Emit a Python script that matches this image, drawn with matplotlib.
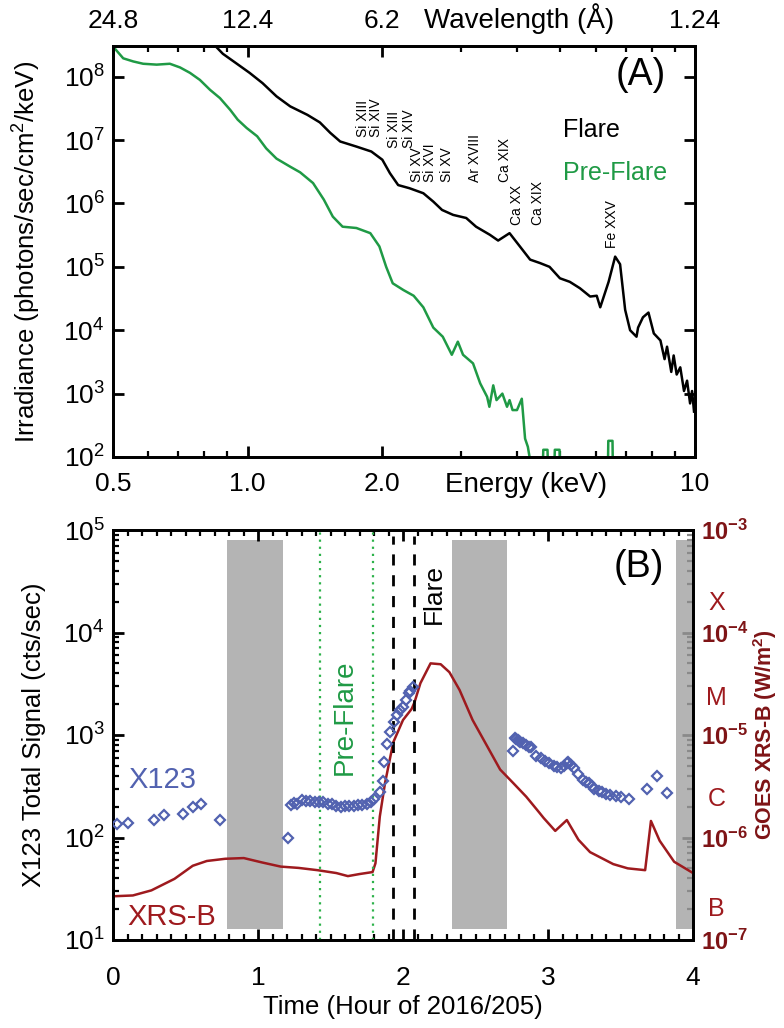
import matplotlib
matplotlib.use("Agg")
import matplotlib.pyplot as plt
import matplotlib.ticker as mticker
import matplotlib.transforms as mtransforms
from matplotlib import rcParams

rcParams['font.family'] = ['Liberation Sans', 'DejaVu Sans']
rcParams['mathtext.default'] = 'regular'
rcParams['axes.linewidth'] = 2.0
rcParams['xtick.direction'] = 'in'
rcParams['ytick.direction'] = 'in'
rcParams['xtick.major.size'] = 8
rcParams['ytick.major.size'] = 8
rcParams['xtick.minor.size'] = 4.5
rcParams['ytick.minor.size'] = 4.5
rcParams['xtick.major.width'] = 2.0
rcParams['ytick.major.width'] = 2.0
rcParams['xtick.minor.width'] = 1.6
rcParams['ytick.minor.width'] = 1.6

BLACK = "#000000"
GREEN = "#1F9A45"
GREEN_DOT = "#2DB24A"
BLUE = "#5262B0"
RED = "#9E1A1E"
DKRED = "#7E1416"
GRAY = "#B4B4B4"

# ---------------- panel A data: X123 spectra ----------------
flare_energy = [0.50, 0.60, 0.70, 0.80, 0.845, 0.88, 0.946, 1.01, 1.08, 1.16,
                1.245, 1.36, 1.45, 1.53, 1.61, 1.75, 1.89, 2.00, 2.08, 2.17,
                2.30, 2.47, 2.60, 2.72, 2.88, 3.08, 3.24, 3.48, 3.63, 3.85,
                4.06, 4.28, 4.50, 4.73, 4.99, 5.25, 5.53, 5.83, 6.03, 6.14,
                6.41, 6.63, 6.80, 6.98, 7.16, 7.40, 7.46, 7.65, 7.87, 8.09,
                8.37, 8.55, 8.66, 8.85, 8.96, 9.10, 9.27, 9.45, 9.60, 9.75,
                9.85, 9.95]
flare_irr = [1.6e9, 8.9e8, 5.6e8, 3.5e8, 3.1e8, 2.3e8, 1.6e8, 1.15e8, 7.9e7, 4.9e7,
             3.4e7, 2.5e7, 1.9e7, 1.3e7, 9.5e6, 7.9e6, 6.6e6, 4.9e6, 3.0e6, 1.95e6,
             1.74e6, 1.45e6, 1.07e6, 7.9e5, 6.6e5, 5.9e5, 4.3e5, 3.2e5, 2.6e5, 3.4e5,
             2.1e5, 1.3e5, 1.15e5, 1.0e5, 6.6e4, 5.8e4, 4.6e4, 3.4e4, 3.5e4, 2.3e4,
             5.8e4, 1.45e5, 1.1e5, 2.1e4, 1.0e4, 7.9e3, 1.1e4, 1.6e4, 1.9e4, 8.9e3,
             6.9e3, 3.5e3, 5.5e3, 2.2e3, 4.0e3, 2.0e3, 2.6e3, 1.1e3, 1.6e3, 7.0e2,
             1.1e3, 5.2e2]

pre_energy = [0.50, 0.527, 0.555, 0.584, 0.626, 0.67, 0.706, 0.743, 0.782, 0.824,
              0.867, 0.914, 0.95, 0.995, 1.05, 1.10, 1.16, 1.245, 1.31, 1.40,
              1.48, 1.55, 1.63, 1.75, 1.88, 1.97, 2.04, 2.11, 2.23, 2.35,
              2.47, 2.60, 2.73, 2.86, 2.95, 3.03, 3.19, 3.31, 3.43, 3.47,
              3.54, 3.60, 3.71, 3.80, 3.85, 3.91, 4.00, 4.10, 4.17, 4.23,
              4.29, 4.57, 4.58, 4.68, 4.69, 4.85, 4.86, 4.98, 4.99, 6.39,
              6.40, 6.54, 6.55, 10.0]
pre_irr = [3.0e8, 1.95e8, 1.74e8, 1.6e8, 1.55e8, 1.6e8, 1.4e8, 1.15e8, 8.9e7, 6.2e7,
           4.6e7, 3.0e7, 2.1e7, 1.55e7, 1.15e7, 7.4e6, 5.1e6, 3.8e6, 3.1e6, 2.1e6,
           1.15e6, 6.2e5, 4.3e5, 4.1e5, 3.4e5, 2.1e5, 1.0e5, 5.5e4, 4.3e4, 3.5e4,
           2.3e4, 1.1e4, 7.9e3, 4.1e3, 6.6e3, 4.1e3, 3.0e3, 1.45e3, 8.9e2, 6.2e2,
           1.35e3, 7.9e2, 1.0e3, 6.2e2, 7.9e2, 5.5e2, 5.5e2, 8.3e2, 1.95e2, 1.45e2,
           8.0e1, 8.0e1, 1.3e2, 1.3e2, 8.0e1, 8.0e1, 1.3e2, 1.3e2, 8.0e1, 8.0e1,
           1.8e2, 1.8e2, 8.0e1, 8.0e1]

line_names = ["Si XIII", "Si XIV", "Si XIII", "Si XIV", "Si XV", "Si XVI", "Si XV",
              "Ar XVIII", "Ca XIX", "Ca XX", "Ca XIX", "Fe XXV"]
line_energy = [1.81, 1.94, 2.12, 2.30, 2.39, 2.56, 2.79, 3.22, 3.76, 3.99, 4.46, 6.51]
line_base = [1.1e7, 1.1e7, 7.6e6, 7.6e6, 2.2e6, 2.2e6, 2.2e6, 2.2e6, 2.2e6,
             4.6e5, 4.6e5, 2.0e5]

energy_ticks = [0.5, 1.0, 2.0, 10]
energy_labels = ["0.5", "1.0", "2.0", "10"]
wave_labels = ["24.8", "12.4", "6.2", "1.24"]

# ---------------- panel B data: time series ----------------
x123_time = [0.03, 0.10, 0.28, 0.35, 0.48, 0.55, 0.61, 0.74, 1.21,
             1.23, 1.25, 1.27, 1.30, 1.33, 1.36, 1.39, 1.42, 1.45, 1.48,
             1.51, 1.54, 1.57, 1.60, 1.63, 1.66, 1.69, 1.72, 1.75, 1.78,
             1.80, 1.84, 1.86, 1.87, 1.89, 1.91, 1.94, 1.96, 1.98, 2.00,
             2.02, 2.04, 2.05, 2.07,
             2.76, 2.77, 2.78, 2.79, 2.80, 2.81, 2.83, 2.85, 2.87, 2.88,
             2.92, 2.95, 2.98, 3.01, 3.04, 3.06, 3.09, 3.11, 3.13, 3.14,
             3.16, 3.18, 3.21, 3.24, 3.26, 3.28, 3.30, 3.32, 3.35, 3.37,
             3.40, 3.43, 3.47, 3.50, 3.56, 3.68, 3.75, 3.82]
x123_counts = [135, 140, 147, 164, 168, 200, 210, 147, 100,
               206, 215, 214, 234, 228, 225, 222, 224, 220, 213,
               210, 205, 200, 202, 204, 205, 206, 209, 212, 220,
               240, 275, 355, 540, 810, 1070, 1350, 1580, 1750, 1860,
               2190, 2570, 2700, 2950,
               700, 930, 910, 890, 870, 850, 830, 800, 770, 760,
               630, 600, 560, 530, 500, 490, 480, 500, 530, 550,
               510, 480, 420, 365, 345, 340, 320, 300, 285, 275,
               265, 257, 255, 250, 235, 295, 400, 270]

goes_time = [0.0, 0.137, 0.265, 0.424, 0.55, 0.647, 0.774, 0.902, 1.03, 1.157,
             1.28, 1.41, 1.54, 1.62, 1.70, 1.79, 1.81, 1.84, 1.876, 1.933,
             2.0, 2.06, 2.08, 2.12, 2.19, 2.26, 2.32, 2.39, 2.48, 2.58,
             2.67, 2.76, 2.85, 2.94, 2.97, 3.05, 3.13, 3.21, 3.29, 3.45,
             3.55, 3.67, 3.71, 3.77, 3.87, 4.0]
goes_flux = [2.67e-7, 2.72e-7, 3.05e-7, 3.95e-7, 5.3e-7, 5.9e-7, 6.2e-7, 6.3e-7, 5.7e-7, 5.2e-7,
             5.05e-7, 4.8e-7, 4.5e-7, 4.2e-7, 4.4e-7, 4.6e-7, 5.6e-7, 1.6e-6, 3.4e-6, 8.5e-6,
             1.4e-5, 1.8e-5, 2.1e-5, 3.2e-5, 5.0e-5, 4.9e-5, 4.1e-5, 2.75e-5, 1.4e-5, 7.8e-6,
             4.6e-6, 3.4e-6, 2.5e-6, 1.75e-6, 1.55e-6, 1.16e-6, 1.48e-6, 9.5e-7, 7.2e-7, 5.5e-7,
             5.0e-7, 4.8e-7, 1.45e-6, 9.3e-7, 5.8e-7, 4.5e-7]

gap_start = [0.785, 2.335, 3.885]
gap_end = [1.17, 2.72, 4.05]
preflare_window = [1.43, 1.79]
flare_window = [1.93, 2.075]
goes_class = ["X", "M", "C", "B"]
goes_class_y = [1.95e-4, 2.3e-5, 2.4e-6, 2.0e-7]

fig = plt.figure(figsize=(7.84, 10.28), dpi=100)

# ================= panel A =================
ax = fig.add_axes([113 / 784, 1 - 457 / 1028, 582 / 784, 411 / 1028])
ax.plot(flare_energy, flare_irr, color=BLACK, lw=1.8)
ax.plot(pre_energy, pre_irr, color=GREEN, lw=1.8)
ax.set_xscale("log")
ax.set_yscale("log")
ax.set_xlim(0.5, 10)
ax.set_ylim(1e2, 3.05e8)
ax.xaxis.set_major_locator(mticker.FixedLocator(energy_ticks))
ax.xaxis.set_major_formatter(mticker.FixedFormatter(energy_labels))
ax.xaxis.set_minor_formatter(mticker.NullFormatter())
ax.yaxis.set_major_locator(mticker.LogLocator(base=10, numticks=20))
ax.yaxis.set_minor_locator(mticker.NullLocator())
ax.tick_params(axis="x", which="both", labelsize=19, pad=11)
ax.tick_params(axis="y", which="both", labelsize=19, pad=6, right=True)
ax.set_ylabel("Irradiance (photons/sec/cm$^2$/keV)", fontsize=18.5)
ax.yaxis.set_label_coords(-0.12, 0.5)
ax.annotate("Energy (keV)", xy=(4.2, 0), xycoords=("data", "axes fraction"),
            xytext=(0, -11), textcoords="offset points", ha="center", va="top",
            fontsize=20)

top = ax.twiny()
top.set_xscale("log")
top.set_xlim(0.5, 10)
top.xaxis.set_major_locator(mticker.FixedLocator(energy_ticks))
top.xaxis.set_major_formatter(mticker.FixedFormatter(wave_labels))
top.xaxis.set_minor_formatter(mticker.NullFormatter())
top.tick_params(axis="x", which="both", labelsize=19, pad=9)
top.annotate("Wavelength (\u00c5)", xy=(4.05, 1), xycoords=("data", "axes fraction"),
             xytext=(0, 9), textcoords="offset points", ha="center", va="bottom",
             fontsize=20)

for name, e, base in zip(line_names, line_energy, line_base):
    ax.text(e, base, name, rotation=90, ha="center", va="bottom", fontsize=10)

ax.text(0.95, 0.93, "(A)", transform=ax.transAxes, ha="right", va="center", fontsize=27)
ax.text(0.773, 0.795, "Flare", transform=ax.transAxes, color=BLACK, fontsize=18, va="center")
ax.text(0.773, 0.69, "Pre-Flare", transform=ax.transAxes, color=GREEN, fontsize=18, va="center")

# ================= panel B =================
bx = fig.add_axes([113 / 784, 1 - 940 / 1028, 580 / 784, 410 / 1028])
gx = bx.twinx()

bx.set_yscale("log")
bx.set_xlim(0, 4)
bx.set_ylim(10, 1e5)
gx.set_yscale("log")
gx.set_ylim(1e-7, 1e-3)

# data gaps drawn on the GOES axes so the GOES curve passes over them
for s, e in zip(gap_start, gap_end):
    gx.axvspan(s, e, ymin=0.026, ymax=0.976, color=GRAY, lw=0, zorder=1)
gx.plot(goes_time, goes_flux, color=RED, lw=1.8, zorder=3)

for t in preflare_window:
    bx.axvline(t, color=GREEN_DOT, ls=(0, (1, 2.2)), lw=1.6, zorder=2)
for t in flare_window:
    bx.axvline(t, ymax=0.985, color=BLACK, ls=(0, (4, 3.5)), lw=2.0, zorder=2)
bx.plot(x123_time, x123_counts, ls="none", marker="D", ms=5.5, mfc="none",
        mec=BLUE, mew=1.6, zorder=4)
bx.set_zorder(gx.get_zorder() + 1)
bx.patch.set_visible(False)

bx.xaxis.set_major_locator(mticker.MultipleLocator(1))
bx.xaxis.set_minor_locator(mticker.MultipleLocator(0.1))
bx.yaxis.set_major_locator(mticker.LogLocator(base=10, numticks=10))
bx.yaxis.set_minor_locator(mticker.LogLocator(base=10, subs=range(2, 10), numticks=10))
bx.yaxis.set_minor_formatter(mticker.NullFormatter())
bx.tick_params(axis="x", which="both", labelsize=19, pad=19, top=True)
bx.tick_params(axis="y", which="both", labelsize=19, pad=6)
bx.set_xlabel("Time (Hour of 2016/205)", fontsize=18.5, labelpad=3)
bx.set_ylabel("X123 Total Signal (cts/sec)", fontsize=18.5)
bx.yaxis.set_label_coords(-0.115, 0.5)

gx.yaxis.set_major_locator(mticker.LogLocator(base=10, numticks=10))
gx.yaxis.set_minor_locator(mticker.LogLocator(base=10, subs=range(2, 10), numticks=10))
gx.yaxis.set_minor_formatter(mticker.NullFormatter())
gx.tick_params(axis="y", which="both", colors="#8A8A8A", labelcolor=DKRED, labelsize=17, pad=6)
for lab in gx.get_yticklabels():
    lab.set_fontweight("bold")
gx.set_ylabel("GOES XRS-B (W/m$^2$)", fontsize=15.5, fontweight="bold", color=DKRED,
              rotation=90)
gx.yaxis.set_label_coords(1.10, 0.5)
trans = mtransforms.blended_transform_factory(gx.transAxes, gx.transData)
for c, y in zip(goes_class, goes_class_y):
    gx.text(1.041, y, c, transform=trans, color=RED, fontsize=18, ha="center", va="center")

bx.text(0.95, 0.91, "(B)", transform=bx.transAxes, ha="right", va="center", fontsize=27)
bx.text(2.21, 2.4e4, "Flare", rotation=90, ha="center", va="center", fontsize=19)
bx.text(1.6, 1.5e3, "Pre-Flare", rotation=90, ha="center", va="center", fontsize=20,
        color=GREEN)
bx.text(0.026, 0.39, "X123", transform=bx.transAxes, color=BLUE, fontsize=21, va="center")
bx.text(0.024, 0.055, "XRS-B", transform=bx.transAxes, color=RED, fontsize=21, va="center")

fig.savefig("out.png", dpi=100)
